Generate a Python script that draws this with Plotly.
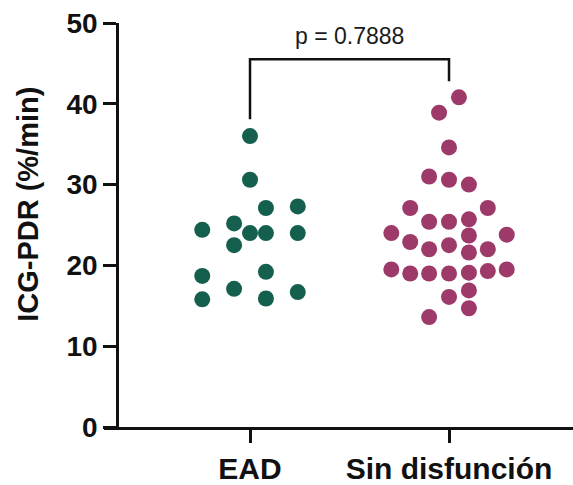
import plotly.graph_objects as go

# ---- data ----
categories = ["EAD", "Sin disfunción"]

ead_values = [36.0, 30.6, 27.1, 27.3, 24.4, 25.2, 24.0, 24.0, 24.0, 22.5,
              18.7, 19.2, 17.1, 16.7, 15.8, 15.9]
# horizontal swarm offsets of each point (fraction of category spacing)
ead_offsets = [0.0, 0.0, 0.08, 0.24, -0.24, -0.08, 0.0, 0.08, 0.24, -0.08,
               -0.24, 0.08, -0.08, 0.24, -0.24, 0.08]

sin_values = [40.8, 38.9, 34.6, 31.0, 30.6, 30.0, 27.1, 27.1, 25.4, 25.4,
              25.7, 24.0, 22.9, 22.0, 22.5, 23.7, 21.6, 22.0, 23.8, 19.5,
              19.0, 19.0, 19.0, 19.1, 19.3, 19.5, 16.1, 16.9, 14.7, 13.6]
sin_offsets = [0.05, -0.05, 0.0, -0.10, 0.0, 0.10, -0.195, 0.195, -0.10, 0.0,
               0.10, -0.29, -0.195, -0.10, 0.0, 0.10, 0.10, 0.195, 0.29, -0.29,
               -0.195, -0.10, 0.0, 0.10, 0.195, 0.29, 0.0, 0.10, 0.10, -0.10]

p_label = "p = 0.7888"
y_ticks = [0, 10, 20, 30, 40, 50]
y_title = "ICG-PDR (%/min)"

GREEN = "#155f4e"
PINK = "#9e3a69"
FONT = "Liberation Sans"

fig = go.Figure()
fig.add_trace(go.Scatter(
    x=[0 + o for o in ead_offsets], y=ead_values, mode="markers",
    marker=dict(size=16, color=GREEN, line=dict(width=0)), showlegend=False))
fig.add_trace(go.Scatter(
    x=[1 + o for o in sin_offsets], y=sin_values, mode="markers",
    marker=dict(size=16, color=PINK, line=dict(width=0)), showlegend=False))

# significance bracket
fig.add_shape(type="path", xref="x", yref="y",
              path="M 0,38.1 L 0,45.5 L 1,45.5 L 1,42.8",
              line=dict(color="#111111", width=2.5))
fig.add_annotation(x=0.5, y=48.4, xref="x", yref="y", text=p_label,
                   showarrow=False, font=dict(family=FONT, size=23, color="#1a1a1a"))

# y-axis title
fig.add_annotation(x=-0.162, y=0.55, xref="paper", yref="paper", text=y_title,
                   textangle=-90, showarrow=False, xanchor="center", yanchor="middle",
                   font=dict(family=FONT, size=29, color="#111111", weight="bold"))

fig.update_layout(
    width=573, height=485,
    margin=dict(l=104, r=0, t=23, b=53),
    plot_bgcolor="white", paper_bgcolor="white",
    xaxis=dict(range=[-0.7337, 1.623], tickvals=[0, 1], ticktext=categories,
               showline=True, linecolor="#111111", linewidth=2.5,
               ticks="outside", ticklen=13, tickwidth=2.5, tickcolor="#111111",
               showgrid=False, zeroline=False,
               tickfont=dict(family=FONT, size=30, color="#111111", weight="bold")),
    yaxis=dict(range=[0, 50], tickvals=y_ticks, anchor="free", position=0.0277,
               showline=True, linecolor="#111111", linewidth=2.5,
               ticks="outside", ticklen=13, tickwidth=2.5, tickcolor="#111111",
               showgrid=False, zeroline=False,
               tickfont=dict(family=FONT, size=28, color="#111111", weight="bold")),
)

fig.write_html("out.html")
